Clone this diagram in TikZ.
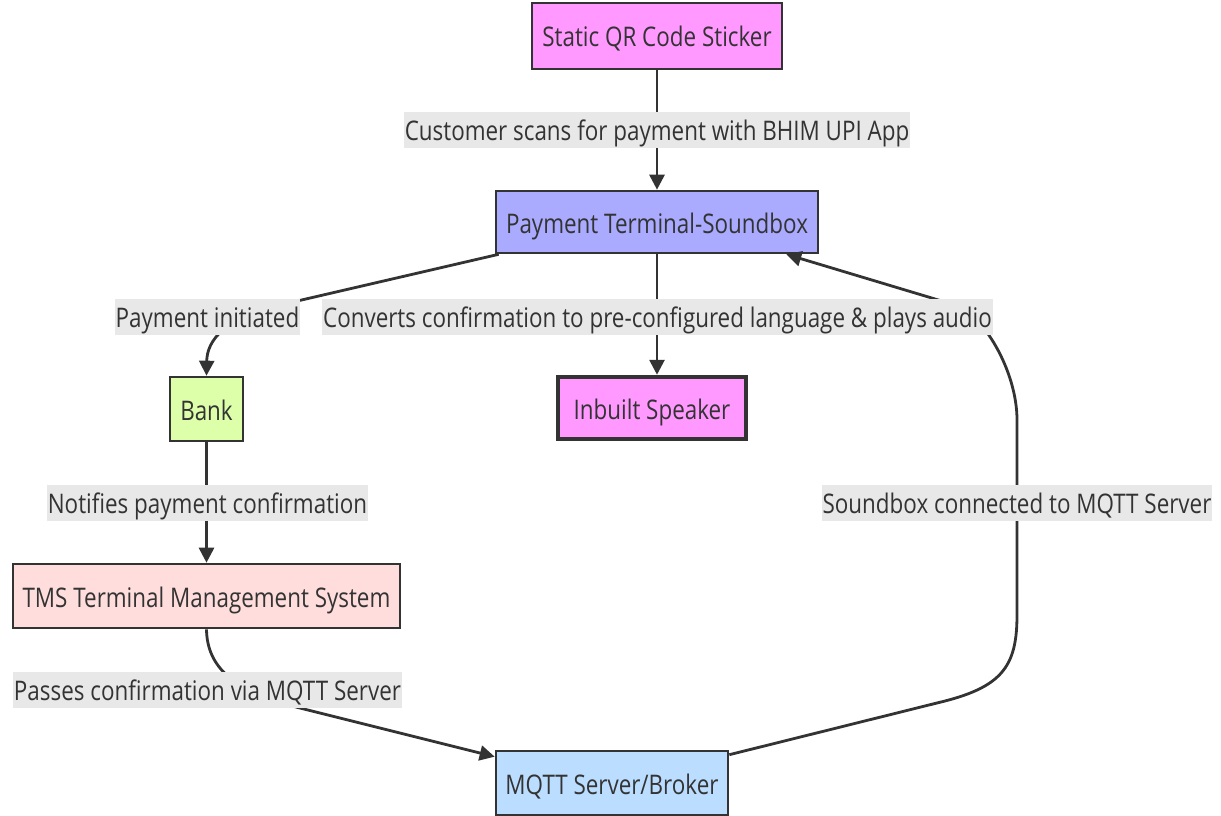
\documentclass[tikz,border=0pt]{standalone}
\usepackage{fontspec}
\setmainfont{Open Sans}[FakeStretch=0.83]
\usetikzlibrary{arrows.meta,calc}
\definecolor{ink}{HTML}{333333}
\definecolor{pinkfill}{HTML}{FF99FF}
\definecolor{lavfill}{HTML}{AAAAFF}
\definecolor{greenfill}{HTML}{DDFFAA}
\definecolor{rosefill}{HTML}{FFDDDD}
\definecolor{bluefill}{HTML}{BBDDFF}
\definecolor{lblbg}{HTML}{E8E8E8}
\tikzset{
  box/.style={draw=ink, line width=2.6pt, text=ink, inner xsep=8pt, minimum height=63pt, text height=24pt, text depth=2pt, font=\fontsize{27}{32}\selectfont},
  lbl/.style={fill=lblbg, text=ink, inner xsep=1pt, minimum height=36pt, text height=23pt, text depth=3pt, font=\fontsize{27}{32}\selectfont},
  edge/.style={draw=ink, line width=2.8pt, -{Triangle[length=15pt,width=15pt]}},
}
\begin{document}
\begin{tikzpicture}[x=1pt,y=-1pt]
\useasboundingbox (0,0) rectangle (1221,816);
\node[box, fill=pinkfill, minimum width=250pt, minimum height=66pt] (qr) at (657,36) {Static QR Code Sticker};
\node[box, fill=lavfill, minimum width=322pt, minimum height=62pt] (pt) at (657,222) {Payment Terminal-Soundbox};
\node[box, fill=greenfill, minimum width=73pt, minimum height=64pt] (bank) at (206.5,409) {Bank};
\node[box, fill=pinkfill, line width=4.5pt, minimum width=188pt, minimum height=62pt] (spk) at (652,408) {Inbuilt Speaker};
\node[box, fill=rosefill, minimum width=387pt, minimum height=64pt] (tms) at (206.5,596) {TMS Terminal Management System};
\node[box, fill=bluefill, minimum width=232pt, minimum height=64pt] (mqtt) at (612,783) {MQTT Server/Broker};

\draw[edge] (qr) -- (pt);
\draw[edge] ([xshift=4pt]pt.south west) -- (280,305) .. controls (225,318) and (207,340) .. (bank.north);
\draw[edge] (pt.south) -- (pt.south |- spk.north);
\draw[edge] (bank) -- (bank.south |- tms.north);
\draw[edge] (tms.south) .. controls (207,668) and (235,692) .. (300,708) -- ([yshift=-7pt]mqtt.north west);
\draw[edge] ([yshift=-5pt]mqtt.north east) -- (945,701) .. controls (1003,686) and (1017,665) .. (1017,615) -- (1017,420) .. controls (1017,370) and (982,313) .. (955,305) -- ([xshift=-33pt]pt.south east);

\node[lbl] (l1) at (657,130) {Customer scans for payment with BHIM UPI App};
\node[lbl] (l2) at (207.5,317) {Payment initiated};
\node[lbl] (l3) at (657.5,317) {Converts confirmation to pre-configured language \& plays audio};
\node[lbl] (l4) at (207.5,503) {Notifies payment confirmation};
\node[lbl] (l5) at (207.5,690) {Passes confirmation via MQTT Server};
\node[lbl] (l6) at (1017,503) {Soundbox connected to MQTT Server};
\end{tikzpicture}
\end{document}
